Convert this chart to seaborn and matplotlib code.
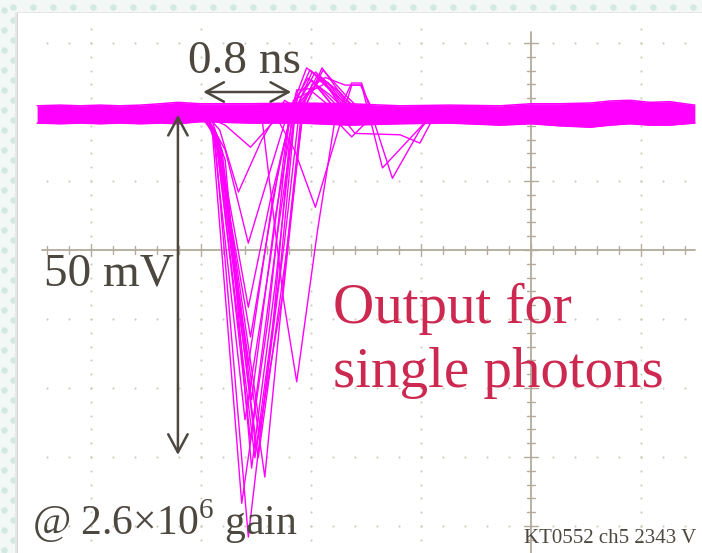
import matplotlib
matplotlib.use("Agg")
import matplotlib.pyplot as plt
import seaborn as sns
import numpy as np
import pandas as pd

# Single-photon pulses: time in ns (0 = centre line), amplitude in mV
pulse_A_t = [-3.01, -2.88, -2.57, -2.35, -2.17, -2.01, -1.83, -1.65]
pulse_A_v = [19.7, 17.4, -41.6, -11.6, 20.3, 26.1, 23.5, 19.7]
pulse_B_t = [-3.01, -2.90, -2.63, -2.39, -2.19, -2.04, -1.87, -1.69]
pulse_B_v = [19.7, 17.7, -36.7, -10.1, 20.0, 26.4, 24.3, 19.7]
pulse_C_t = [-2.96, -2.85, -2.42, -2.22, -2.07, -1.89, -1.69, -1.51]
pulse_C_v = [19.7, 15.9, -32.9, 0.0, 20.3, 26.1, 22.5, 19.7]
pulse_D_t = [-3.01, -2.87, -2.51, -2.28, -2.14, -1.96, -1.78, -1.60]
pulse_D_v = [19.7, 16.7, -30.1, -2.9, 20.6, 25.8, 23.2, 19.7]
pulse_E_t = [-2.96, -2.86, -2.48, -2.22, -2.08, -1.94, -1.74, -1.55]
pulse_E_v = [19.7, 16.2, -30.1, 0.0, 21.0, 25.4, 22.9, 19.7]
pulse_F_t = [-3.01, -2.89, -2.60, -2.37, -2.19, -2.03, -1.83, -1.65]
pulse_F_v = [19.7, 17.1, -24.6, -1.4, 20.3, 24.9, 22.5, 19.7]
pulse_G_t = [-2.96, -2.83, -2.46, -2.24, -2.10, -1.92, -1.72, -1.54]
pulse_G_v = [19.7, 14.8, -26.1, 1.4, 21.0, 24.6, 21.7, 19.7]
pulse_H_t = [-2.96, -2.81, -2.54, -2.33, -2.15, -1.96, -1.74]
pulse_H_v = [19.7, 14.5, -21.7, 4.3, 20.6, 23.9, 19.7]
pulse_I_t = [-3.01, -2.86, -2.55, -2.30, -2.12, -1.99, -1.74]
pulse_I_v = [19.7, 16.2, -27.5, 2.9, 22.5, 24.6, 19.7]
pulse_J_t = [-2.96, -2.85, -2.57, -2.35, -2.16, -1.85, -1.63]
pulse_J_v = [19.7, 14.5, -16.7, 7.2, 21.7, 24.3, 19.7]
pulse_K_t = [-3.01, -2.87, -2.55, -2.28, -2.13, -1.92, -1.69]
pulse_K_v = [19.7, 17.1, -12.6, 13.0, 23.2, 23.5, 19.7]
pulse_L_t = [-2.96, -2.81, -2.57, -2.37, -2.17, -2.01, -1.74]
pulse_L_v = [19.7, 13.0, -8.3, 7.2, 20.0, 23.2, 19.7]
pulse_M_t = [-3.01, -2.78, -2.55, -2.37, -2.19, -2.01]
pulse_M_v = [19.7, 18.1, 14.9, 18.1, 21.0, 19.7]
pulse_N_t = [-2.96, -2.83, -2.66, -2.45, -2.24, -2.05]
pulse_N_v = [19.7, 17.4, 8.4, 15.9, 21.7, 19.7]
pulse_O_t = [-2.96, -2.78, -2.57, -2.37, -2.19, -2.05]
pulse_O_v = [19.7, 14.5, 1.0, 11.6, 21.0, 19.7]
pulse_P_t = [-2.45, -2.25, -2.13, -1.94, -1.78, -1.63, -1.54, -1.26, -1.01, -0.90]
pulse_P_v = [19.7, -7.2, -19.1, 2.9, 19.1, 24.2, 24.2, 10.4, 17.4, 19.7]
pulse_Q_t = [-2.33, -2.15, -1.96, -1.78, -1.63, -1.54, -1.35, -1.01, -0.90]
pulse_Q_v = [19.7, 14.5, 6.2, 15.9, 23.9, 23.9, 11.9, 17.7, 19.7]
pulse_R_t = [-1.83, -1.63, -1.46, -1.33]
pulse_R_v = [19.7, 16.4, 19.1, 19.7]
pulse_S_t = [-2.92, -2.78, -2.54, -2.32, -2.15, -1.99, -1.83, -1.67]
pulse_S_v = [19.7, 13.0, -31.6, -4.3, 20.0, 25.8, 23.2, 19.7]
pulse_T_t = [-2.96, -2.83, -2.50, -2.25, -2.08, -1.90, -1.69, -1.48]
pulse_T_v = [19.7, 15.9, -29.0, -5.8, 19.6, 26.4, 21.7, 19.7]
pulse_U_t = [-1.74, -1.60, -1.19, -1.01, -0.90, -0.83]
pulse_U_v = [19.7, 16.9, 16.7, 15.5, 18.8, 19.7]
pulse_V_t = [-2.10, -1.99, -1.87, -1.69, -1.55, -1.42]
pulse_V_v = [19.7, 24.0, 25.0, 23.9, 23.9, 19.7]

# Noise envelope of the overlaid baselines
band_t = [-4.49, -4.28, -4.10, -3.92, -3.74, -3.55, -3.37, -3.21, -3.01, -2.55, -2.10, -1.65,
          -1.19, -0.74, -0.28, 0.00, 0.26, 0.54, 0.72, 0.90, 1.08, 1.26, 1.49]
band_hi = [20.9, 21.0, 20.9, 21.0, 20.9, 21.0, 21.2, 21.4, 21.2, 21.2, 21.3, 21.2,
           20.9, 21.0, 20.9, 21.2, 21.2, 21.3, 21.6, 21.7, 21.4, 21.5, 21.0]
band_lo = [18.4, 18.3, 18.4, 18.3, 18.4, 18.3, 18.4, 18.3, 18.6, 18.4, 18.4, 18.1,
           18.3, 18.4, 18.1, 18.3, 18.0, 17.8, 18.1, 18.3, 18.1, 18.1, 18.4]

baseline_mv = 19.6
width_ns = 0.8
height_mv = 50

pulses = {
    'A': (pulse_A_t, pulse_A_v), 'B': (pulse_B_t, pulse_B_v), 'C': (pulse_C_t, pulse_C_v),
    'D': (pulse_D_t, pulse_D_v), 'E': (pulse_E_t, pulse_E_v), 'F': (pulse_F_t, pulse_F_v),
    'G': (pulse_G_t, pulse_G_v), 'H': (pulse_H_t, pulse_H_v), 'I': (pulse_I_t, pulse_I_v),
    'J': (pulse_J_t, pulse_J_v), 'K': (pulse_K_t, pulse_K_v), 'L': (pulse_L_t, pulse_L_v),
    'M': (pulse_M_t, pulse_M_v), 'N': (pulse_N_t, pulse_N_v), 'O': (pulse_O_t, pulse_O_v),
    'P': (pulse_P_t, pulse_P_v), 'Q': (pulse_Q_t, pulse_Q_v), 'R': (pulse_R_t, pulse_R_v),
    'S': (pulse_S_t, pulse_S_v), 'T': (pulse_T_t, pulse_T_v), 'U': (pulse_U_t, pulse_U_v),
    'V': (pulse_V_t, pulse_V_v),
}
df = pd.concat([pd.DataFrame({'t': t, 'mv': v, 'trace': k}) for k, (t, v) in pulses.items()],
               ignore_index=True)

sns.set_style('white')
plt.rcParams['font.family'] = ['Liberation Serif', 'DejaVu Serif']
plt.rcParams['mathtext.fontset'] = 'custom'
plt.rcParams['mathtext.rm'] = 'Liberation Serif'

MAG = '#ff00ff'
INK = '#4d483f'
RED = '#cc2850'
GRID = '#d3cdbf'

fig = plt.figure(figsize=(7.02, 5.53), dpi=100)
fig.patch.set_facecolor('#f3f8f6')

# slide background: pale dotted border and soft panel shadow
bg = fig.add_axes([0, 0, 1, 1], zorder=0)
bg.set_xlim(0, 702)
bg.set_ylim(553, 0)
bg.axis('off')
top_x = np.arange(13, 702, 20)
bg.scatter(top_x, np.full(len(top_x), 7), s=22, color='#d2e9e1', lw=0)
col_y = np.arange(10, 553, 20)
bg.scatter(np.full(len(col_y), 4), col_y, s=22, color='#d2e9e1', lw=0)
bg.scatter(np.full(len(col_y), 13), col_y + 10, s=22, color='#d2e9e1', lw=0)
bg.fill_between([15, 702], 12, 553, color='#e6e6e4', lw=0)
bg.fill_between([16.5, 702], 12.5, 553, color='#d4d4d2', lw=0)

# scope screen
ax = fig.add_axes([18 / 702, 0, 684 / 702, 540 / 553], zorder=1)
ax.set_facecolor('white')
ax.set_xlim(-4.664, 1.555)
ax.set_ylim(-43.91, 34.35)
for s in ax.spines.values():
    s.set_visible(False)
ax.set_xticks([])
ax.set_yticks([])

# graticule dots
for tx in [-4, -3, -2, -1, 1]:
    yy = np.arange(-44, 33, 2)
    ax.scatter(np.full(len(yy), tx), yy, s=2.5, color=GRID, lw=0, zorder=1)
for vy in [-40, -30, -20, -10, 10, 20, 30]:
    xx = np.arange(-4.4, 1.45, 0.2)
    ax.scatter(xx, np.full(len(xx), vy), s=2.5, color=GRID, lw=0, zorder=1)

# centre axes with ticks
AX_C = '#b3ab9b'
ax.plot([-4.45, 1.49], [0, 0], color=AX_C, lw=1.3, zorder=1)
ax.plot([0, 0], [-44, 31.6], color=AX_C, lw=1.3, zorder=1)
for tx in np.arange(-4.4, 1.45, 0.2):
    h = 0.9 if abs(tx - round(tx)) < 1e-6 else 0.55
    ax.plot([tx, tx], [-h, h], color=AX_C, lw=1.0, zorder=1)
for vy in np.arange(-44, 32, 2):
    w = 0.06 if vy % 10 == 0 else 0.04
    ax.plot([-w, w], [vy, vy], color=AX_C, lw=1.0, zorder=1)

# overlaid baselines and pulses
ax.fill_between(band_t, band_lo, band_hi, color=MAG, lw=0, zorder=2)
ax.plot(band_t, band_hi, color=MAG, lw=1.1, zorder=2)
ax.plot(band_t, band_lo, color=MAG, lw=1.1, zorder=2)
sns.lineplot(data=df, x='t', y='mv', units='trace', estimator=None, sort=False,
             color=MAG, lw=1.0, ax=ax, legend=False, zorder=3)
ax.set_xlabel('')
ax.set_ylabel('')

# annotations
arrow_kw = dict(arrowstyle='<->,head_length=0.65,head_width=0.35', color=INK, lw=1.8,
                shrinkA=0, shrinkB=0, mutation_scale=20)
t0 = -2.98
ax.annotate('', xy=(t0, 22.9), xytext=(t0 + width_ns, 22.9), arrowprops=arrow_kw,
            annotation_clip=False, zorder=5)
ax.annotate('', xy=(-3.21, baseline_mv), xytext=(-3.21, baseline_mv - height_mv + 0.7),
            arrowprops=arrow_kw, annotation_clip=False, zorder=5)

ov = fig.add_axes([0, 0, 1, 1], zorder=2)
ov.set_xlim(0, 702)
ov.set_ylim(553, 0)
ov.axis('off')
ov.patch.set_alpha(0)
ov.text(188, 73, '0.8 ns', fontsize=34, color=INK, va='baseline')
ov.text(44, 285, '50 mV', fontsize=34, color=INK, va='baseline')
ov.text(333, 323, 'Output for', fontsize=41, color=RED, va='baseline')
ov.text(333, 387, 'single photons', fontsize=41, color=RED, va='baseline')
ov.text(32, 535, '@ 2.6×10$^{6}$ gain', fontsize=30, color=INK, va='baseline')
ov.text(524, 543, 'KT0552 ch5 2343 V', fontsize=15, color=INK, va='baseline')

fig.savefig('out.png', dpi=100, facecolor=fig.get_facecolor())
